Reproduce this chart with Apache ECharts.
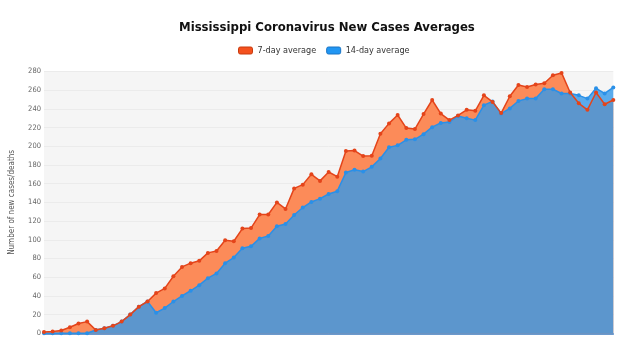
<!DOCTYPE html>
<html>
<head>
<meta charset="utf-8">
<script src="https://cdn.jsdelivr.net/npm/echarts@6/dist/echarts.min.js"></script>
<style>
  html, body { margin: 0; padding: 0; background: #fff; }
  #chart { width: 622px; height: 352px; }
</style>
</head>
<body>
<div id="chart"></div>
<script>
// daily averages (index = day)
const sevenDay = [
  1.5, 2, 3, 6.5, 10.5, 12.5, 3.5, 5.5, 8, 12.5,
  20, 28.5, 34, 43, 48, 61, 71, 75, 77.5, 86,
  88, 99.5, 98.5, 112, 112.5, 127, 127, 140, 133, 155,
  159, 170, 163, 172.5, 167.5, 195, 195.5, 189.5, 190, 213.5,
  224.5, 233.5, 219.5, 218.5, 234.5, 249.5, 235, 228, 233, 239,
  238, 254.5, 247.5, 235.5, 253.5, 265.5, 263.5, 266, 267.5, 276,
  278.5, 257.5, 246, 239, 257.5, 245, 249.5,
];
const fourteenDay = [
  0, 0, 0, 0, 0, 0, 3.5, 5.5, 8, 12.5,
  20, 28.5, 34, 22, 27, 34, 40, 45.5, 51.5, 59,
  64, 75, 81, 91, 93, 101.5, 104, 114.5, 117, 126.5,
  134.5, 140.5, 144, 149, 152, 172, 175, 173, 178, 187,
  199, 201, 207, 207.5, 213, 220.5, 225, 226, 232.5, 230,
  228, 244, 248, 235, 240.5, 248.5, 251, 251, 261, 261,
  256.5, 256.5, 254.5, 251, 262, 256.5, 263,
];
const seriesNames = ['7-day average', '14-day average'];

const toPoints = (arr) => arr.map((v, i) => [i, v]);

const chart = echarts.init(document.getElementById('chart'));

const fontFamily = '"DejaVu Sans Condensed", "Liberation Sans Narrow", "Roboto", sans-serif';

chart.setOption({
  animation: false,
  textStyle: { fontFamily },
  // title and legend sit centred over the plot area, not the whole canvas
  title: {
    text: 'Mississippi Coronavirus New Cases Averages',
    left: 174,
    top: 16,
    textStyle: { fontSize: 13, fontWeight: 'bold', color: '#111', fontFamily },
  },
  legend: {
    top: 41,
    left: 233,
    itemWidth: 14,
    itemHeight: 7,
    itemGap: 10,
    icon: 'roundRect',
    textStyle: { fontSize: 9, color: '#333', fontFamily },
    data: [
      { name: seriesNames[0], itemStyle: { color: '#f4511e', borderColor: '#c73b0e', borderWidth: 1 } },
      { name: seriesNames[1], itemStyle: { color: '#2196f3', borderColor: '#1a74c4', borderWidth: 1 } },
    ],
  },
  grid: {
    left: 36.5,
    right: 8.7,
    top: 71.5,
    bottom: 18.7,
    show: true,
    backgroundColor: '#f5f5f5',
    borderWidth: 0,
  },
  xAxis: {
    type: 'value',
    min: 0,
    max: 66,
    axisLabel: { show: false },
    axisTick: { show: false },
    splitLine: { show: false },
    axisLine: { show: true, lineStyle: { color: '#3b78bd', width: 1.5 } },
  },
  yAxis: {
    type: 'value',
    min: 0,
    max: 280,
    interval: 20,
    name: 'Number of new cases/deaths',
    nameLocation: 'middle',
    nameGap: 28,
    nameTextStyle: { fontSize: 8, color: '#555', fontFamily },
    axisLabel: { fontSize: 7.5, color: '#666', margin: 3, fontFamily },
    axisLine: { show: false },
    axisTick: { show: false },
    splitLine: { lineStyle: { color: '#ebebeb', width: 1 } },
  },
  series: [
    {
      name: seriesNames[0],
      type: 'line',
      data: toPoints(sevenDay),
      symbol: 'none',
      lineStyle: { width: 0 },
      areaStyle: { color: '#fc8b59', opacity: 1 },
      z: 1,
    },
    {
      name: seriesNames[1],
      type: 'line',
      data: toPoints(fourteenDay),
      symbol: 'none',
      lineStyle: { width: 0 },
      areaStyle: { color: '#3399ea', opacity: 0.8 },
      z: 2,
    },
    {
      name: seriesNames[1],
      type: 'line',
      data: toPoints(fourteenDay),
      symbol: 'circle',
      symbolSize: 4,
      itemStyle: { color: '#2a90e8' },
      lineStyle: { color: '#2a90e8', width: 1.5 },
      z: 3,
    },
    {
      name: seriesNames[0],
      type: 'line',
      data: toPoints(sevenDay),
      symbol: 'circle',
      symbolSize: 4,
      itemStyle: { color: '#e4441a' },
      lineStyle: { color: '#e4441a', width: 1.5 },
      z: 4,
    },
  ],
});
</script>
</body>
</html>
